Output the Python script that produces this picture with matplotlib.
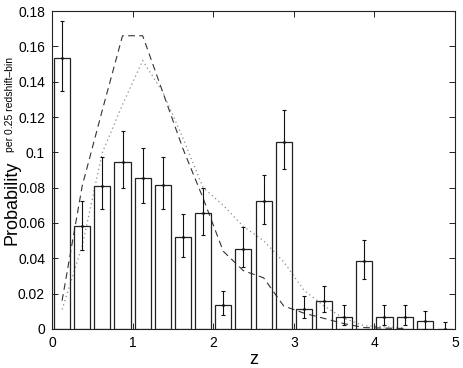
import matplotlib
matplotlib.use("Agg")
import matplotlib.pyplot as plt
import numpy as np

plt.rcParams["font.family"] = ["Liberation Sans", "DejaVu Sans"]

# histogram: bin centres (0.25 wide bins), heights and error bars
z_centres = [0.125, 0.375, 0.625, 0.875, 1.125, 1.375, 1.625, 1.875, 2.125, 2.375,
             2.625, 2.875, 3.125, 3.375, 3.625, 3.875, 4.125, 4.375, 4.625, 4.875]
prob = [0.1536, 0.0585, 0.0811, 0.0947, 0.0856, 0.0813, 0.0519, 0.0655, 0.0134, 0.0451,
        0.0723, 0.1060, 0.0111, 0.0157, 0.0068, 0.0383, 0.0068, 0.0068, 0.0044, 0.0]
err_lo = [0.0186, 0.0135, 0.0134, 0.0147, 0.0141, 0.0136, 0.0109, 0.0125, 0.0056, 0.0101,
          0.0129, 0.0156, 0.0049, 0.0061, 0.0048, 0.0098, 0.0048, 0.0048, 0.0044, 0.0]
err_hi = [0.0209, 0.0140, 0.0161, 0.0173, 0.0167, 0.0162, 0.0131, 0.0145, 0.0079, 0.0125,
          0.0147, 0.0180, 0.0076, 0.0086, 0.0066, 0.0119, 0.0066, 0.0066, 0.0060, 0.0040]

# model curves sampled at the bin centres
curve_z = [0.125, 0.375, 0.625, 0.875, 1.125, 1.375, 1.625, 1.875, 2.125, 2.375,
           2.625, 2.875, 3.125, 3.375, 3.625, 3.875, 4.125, 4.375]
dashed_p = [0.016, 0.081, 0.124, 0.166, 0.166, 0.134, 0.102, 0.074, 0.044, 0.033,
            0.029, 0.013, 0.009, 0.006, 0.003, 0.0008, 0.0005, 0.0003]
dotted_p = [0.011, 0.047, 0.100, 0.127, 0.152, 0.134, 0.108, 0.080, 0.070, 0.058,
            0.050, 0.038, 0.022, 0.013, 0.006, 0.0018, 0.0012, 0.0008]

W, H = 463, 368
fig = plt.figure(figsize=(W / 100, H / 100), dpi=100)
ax = fig.add_axes([52 / W, (H - 329) / H, 403 / W, 318 / H])

ax.plot(curve_z, dashed_p, color="#333333", lw=0.8, linestyle=(0, (6, 4)), zorder=2)
ax.plot(curve_z, dotted_p, color="#8a8a8a", lw=0.9, linestyle=(0, (1, 2.5)), zorder=2)

ax.bar(z_centres, prob, width=0.2, fill=False, edgecolor="#222222", linewidth=0.9, zorder=3)
ax.errorbar(z_centres, prob, yerr=[err_lo, err_hi], fmt=".", ms=2, color="#111111",
            elinewidth=0.8, capsize=1.2, capthick=0.8, zorder=4)

ax.set_xlim(0, 5)
ax.set_ylim(0, 0.18)
xt = [0, 1, 2, 3, 4, 5]
yt = [0, 0.02, 0.04, 0.06, 0.08, 0.1, 0.12, 0.14, 0.16, 0.18]
ax.set_xticks(xt)
ax.set_xticklabels([f"{v:g}" for v in xt])
ax.set_yticks(yt)
ax.set_yticklabels([f"{v:g}" for v in yt])
ax.tick_params(direction="in", length=4, width=0.7, top=True, right=True,
               labelsize=10, pad=5, color="#222222")
for s in ax.spines.values():
    s.set_linewidth(0.8)
    s.set_color("#222222")

ax.set_xlabel("z", fontsize=13, labelpad=1)

# y label: large word plus small raised annotation, both rotated
fig.text(16 / W, (H - 245) / H, "Probability", rotation=90, rotation_mode="anchor",
         ha="left", va="baseline", fontsize=13)
fig.text(13 / W, (H - 152) / H, "per 0.25 redshift\u2013bin", rotation=90,
         rotation_mode="anchor", ha="left", va="baseline", fontsize=7.5)

fig.savefig("out.png", dpi=100)
